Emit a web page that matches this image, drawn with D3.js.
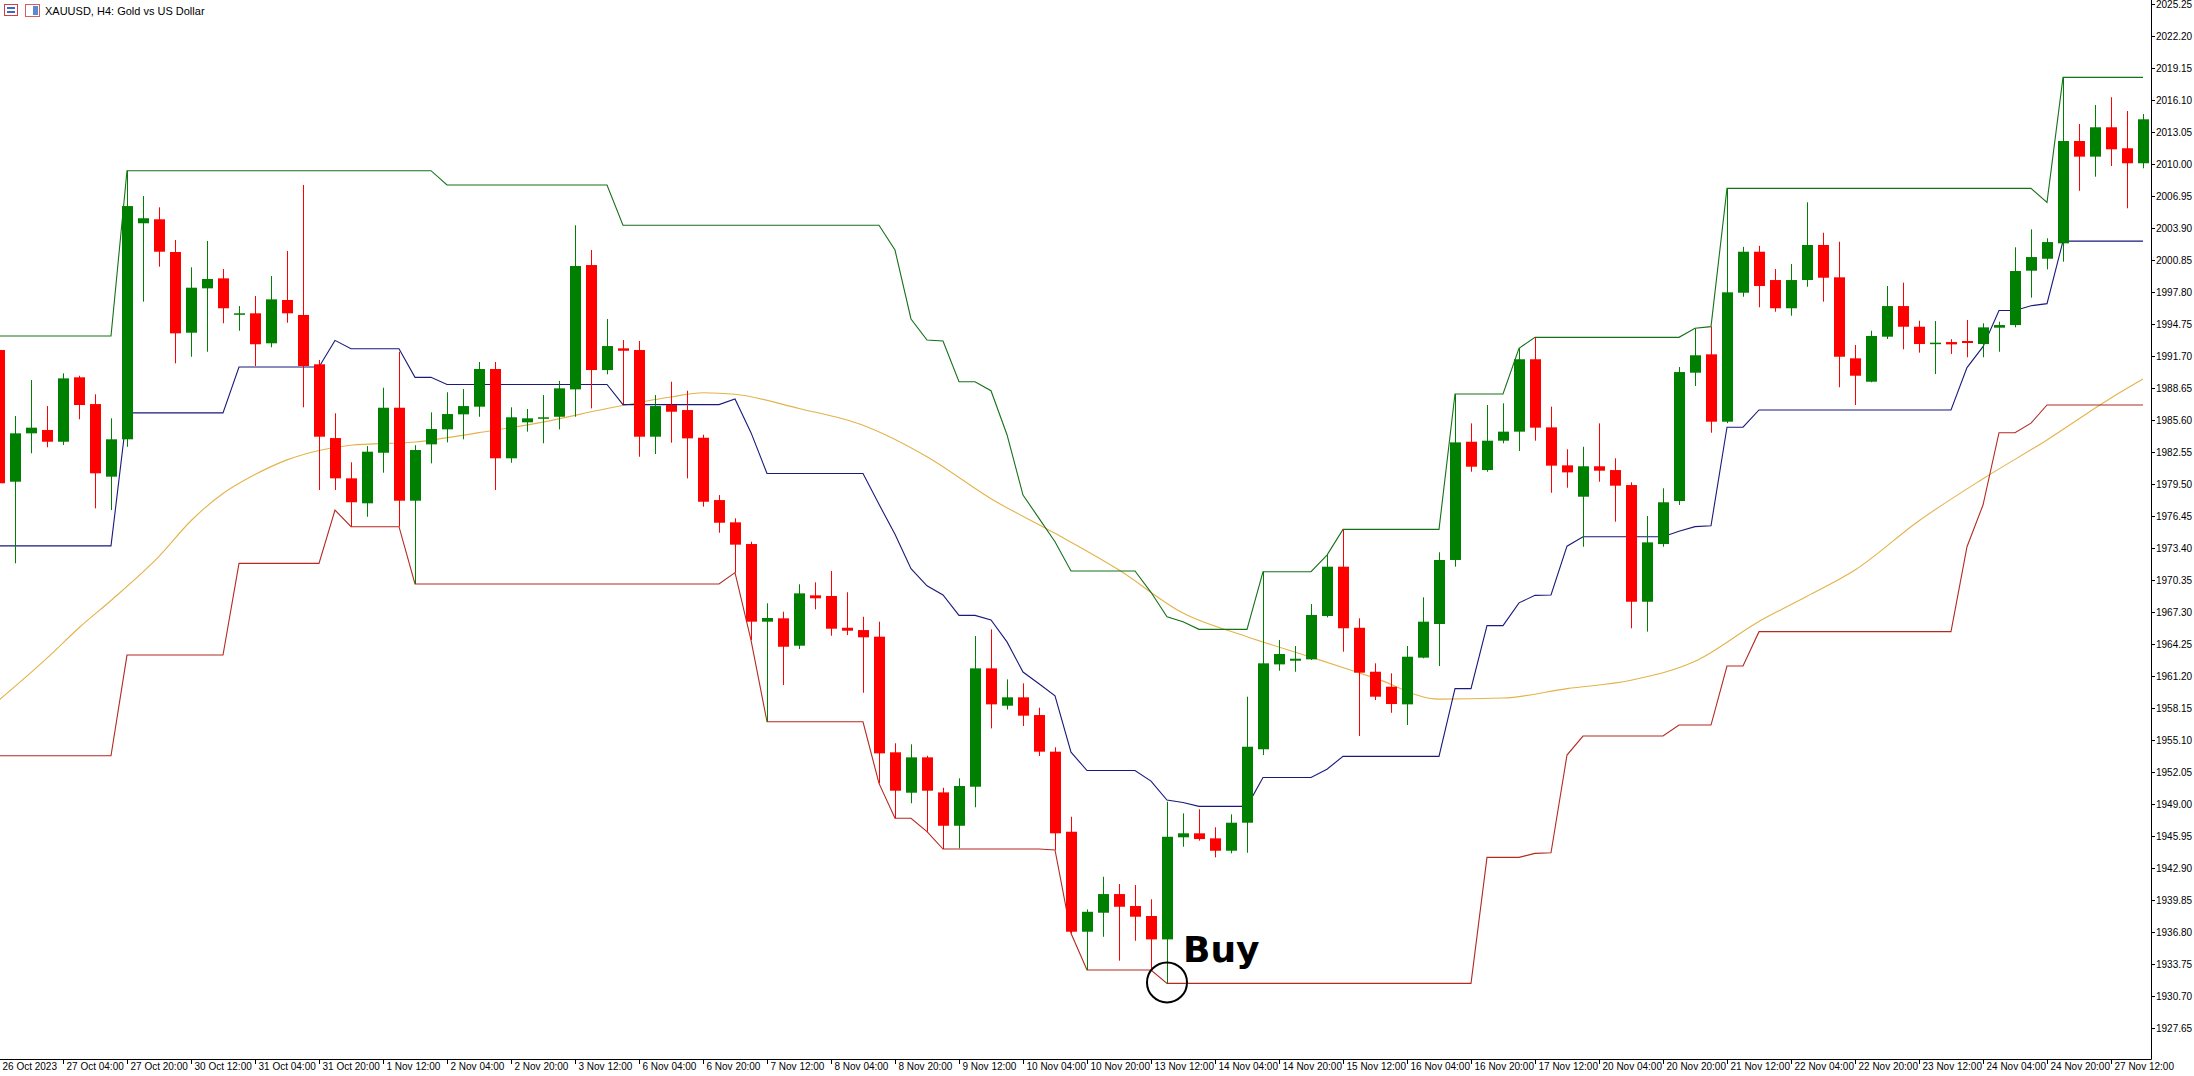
<!DOCTYPE html>
<html>
<head>
<meta charset="utf-8">
<script src="https://cdn.jsdelivr.net/npm/d3@7"></script>
<style>
  body { margin: 0; background: #fff; }
  svg { display: block; }
  .axis text { font-family: "Liberation Sans", Arial, sans-serif; font-size: 10px; fill: #000; }
</style>
</head>
<body>
<svg id="chart" width="2194" height="1076"></svg>
<script>
var opens = [1992.27,1979.72,1984.33,1984.65,1983.53,1989.67,1987.12,1980.2,1983.76,2004.35,2004.73,2001.61,1993.92,1998.15,1999.1,1995.64,1995.77,1992.91,1997.04,1995.61,
  1990.91,1983.88,1980.04,1977.66,1982.48,1986.77,1977.91,1983.28,1984.71,1986.14,1986.87,1990.46,1981.95,1985.38,1985.73,1985.91,1988.52,2000.37,1990.36,1992.43,
  1992.27,1984.01,1987.03,1986.55,1983.91,1977.97,1975.85,1973.78,1966.38,1966.7,1964.09,1968.89,1968.83,1965.8,1965.58,1964.95,1953.93,1950.08,1953.45,1950.11,
  1946.93,1950.65,1961.93,1958.37,1959.17,1957.48,1953.99,1946.36,1936.83,1938.64,1940.42,1939.28,1938.33,1936.10,1945.83,1946.21,1945.73,1944.55,1947.22,1954.22,
  1962.31,1962.66,1962.79,1966.92,1971.62,1965.80,1961.61,1960.18,1958.50,1962.95,1966.16,1972.26,1983.53,1980.83,1983.63,1984.49,1991.39,1984.9,1981.28,1978.29,
  1981.19,1980.83,1979.4,1968.28,1973.78,1977.88,1990.11,1991.86,1985.44,1997.73,2001.64,1998.94,1996.25,1998.94,2002.28,1999.2,1991.48,1989.25,1993.54,1996.46,
  1994.49,1992.84,1993.03,1993.13,1992.84,1994.40,1994.65,1999.83,2000.97,2002.44,2012.19,2010.70,2013.50,2011.50,2010.07];
var highs = [1993.4,1985.98,1989.41,1986.93,1990.05,1989.82,1988.05,1985.76,2009.36,2006.95,2005.87,2002.76,2000.15,2002.66,1999.99,1996.46,1997.42,1999.32,2001.71,2008.0,
  1991.32,1986.24,1981.57,1983.12,1988.68,1992.11,1983.2,1986.33,1988.24,1988.55,1991.13,1991.13,1986.81,1986.65,1987.98,1989.32,2004.16,2001.80,1995.23,1993.22,
  1993.13,1987.98,1989.25,1988.39,1984.2,1978.45,1976.23,1974.0,1968.13,1967.33,1969.94,1970.13,1971.21,1969.18,1966.85,1966.38,1954.79,1954.69,1953.6,1950.55,
  1951.45,1965.01,1965.65,1960.88,1960.5,1958.18,1954.41,1947.79,1938.96,1942.07,1941.38,1941.28,1939.92,1949.22,1948.11,1948.5,1946.78,1948.02,1959.23,1971.14,
  1964.63,1964.06,1968.06,1972.73,1975.18,1966.70,1962.41,1961.46,1964.06,1968.70,1972.99,1988.08,1985.28,1987.03,1987.19,1992.43,1993.48,1986.87,1982.81,1983.05,
  1985.28,1981.95,1979.66,1976.45,1979.09,1990.65,1994.34,1994.50,2007.68,2002.1,2002.2,1999.99,2000.47,2006.35,2003.45,2002.59,1992.75,1994.1,1998.37,1998.69,
  1995.06,1995.03,1993.3,1995.13,1994.82,1994.97,2002.06,2003.77,2002.92,2018.26,2013.81,2015.62,2016.36,2015.05,2014.76];
var lows = [1978.5,1971.94,1982.43,1983.0,1983.22,1985.67,1977.18,1977.02,1983.05,1996.88,2000.21,1991.0,1991.63,1992.11,1994.82,1994.11,1990.75,1992.53,1994.87,1986.81,
  1978.93,1978.93,1975.43,1976.38,1980.58,1975.43,1969.97,1981.47,1983.47,1983.76,1985.91,1978.93,1981.53,1984.49,1983.38,1984.71,1985.91,1986.71,1989.95,1987.12,
  1982.1,1982.36,1983.44,1980.04,1977.34,1974.86,1971.05,1964.63,1956.84,1960.34,1963.77,1967.56,1965.04,1965.1,1959.61,1950.97,1947.64,1949.07,1946.37,1944.71,
  1944.78,1948.69,1956.21,1958.0,1956.44,1953.58,1944.62,1936.68,1933.18,1936.35,1934.07,1935.97,1933.18,1931.91,1944.93,1945.51,1943.92,1944.30,1944.36,1953.67,
  1961.71,1961.61,1962.73,1966.79,1963.52,1955.48,1958.91,1957.70,1956.53,1962.89,1962.15,1971.62,1980.67,1980.67,1983.38,1982.65,1983.63,1978.67,1979.15,1973.52,
  1979.72,1975.91,1965.75,1965.43,1973.52,1977.5,1988.84,1984.39,1985.3,1997.35,1996.34,1995.92,1995.54,1998.30,1996.88,1988.72,1987.03,1989.2,1993.32,1992.34,
  1992.02,1989.98,1991.9,1991.58,1991.58,1992.11,1994.43,1997.26,1999.96,2000.69,2007.45,2008.79,2009.81,2005.78,2009.59];
var closes = [1979.57,1984.33,1984.87,1983.53,1989.57,1987.03,1980.52,1983.76,2005.99,2004.83,2001.64,1993.86,1998.21,1999.04,1996.25,1995.77,1992.82,1997.10,1995.77,1990.75,
  1984.01,1980.04,1977.76,1982.58,1986.77,1977.91,1982.74,1984.74,1986.17,1986.93,1990.46,1981.95,1985.86,1985.76,1985.86,1988.62,2000.28,1990.36,1992.65,1992.2,
  1984.01,1986.93,1986.39,1983.85,1977.81,1975.81,1973.72,1966.38,1966.73,1963.99,1969.08,1968.61,1965.71,1965.52,1964.89,1953.83,1950.27,1953.45,1950.27,1946.93,
  1950.72,1961.93,1958.50,1959.17,1957.42,1953.99,1946.21,1936.83,1938.73,1940.42,1939.21,1938.26,1936.10,1945.88,1946.21,1945.66,1944.55,1947.22,1954.46,1962.41,
  1963.30,1962.85,1967.02,1971.62,1965.75,1961.52,1959.23,1958.53,1963.04,1966.38,1972.26,1983.47,1981.15,1983.63,1984.49,1991.39,1984.87,1981.25,1980.61,1981.19,
  1980.77,1979.34,1968.28,1973.94,1977.76,1990.17,1991.77,1985.44,1997.77,2001.64,1998.37,1996.25,1998.94,2002.28,1999.16,1991.63,1989.82,1993.61,1996.46,1994.49,
  1992.84,1992.97,1992.81,1992.94,1994.43,1994.65,1999.80,2001.13,2002.56,2012.19,2010.70,2013.50,2011.40,2010.07,2014.26];

// channel values before the visible bars reach back off-screen
var earlyUpper = [1993.6,1993.6,1993.6,1993.6,1993.6,1993.6,1993.6,1993.6];
var earlyLower = [1953.6,1953.6,1953.6,1953.6,1953.6,1953.6,1953.6,1953.6,1963.2,1963.2,1963.2,1963.2,1963.2,1963.2,1963.2];
var channelPeriod = 20;

var maBars = [0,3,5,7,10,12,14,16,18,20,22,26,30,34,38,42,44,46,50,54,58,62,66,70,74,78,82,86,90,94,98,102,106,110,113,116,120,124,128,132,134];
var maValues = [1958.9,1962.9,1965.8,1968.4,1972.6,1976.0,1978.6,1980.4,1981.8,1982.7,1983.2,1983.5,1984.4,1985.4,1986.7,1987.8,1988.2,1988.05,1986.7,1985.1,1982.1,1978.1,1974.8,1971.3,1967.2,1964.95,1963.0,1961.0,1959.0,1959.1,1960.0,1960.8,1962.6,1966.4,1968.8,1971.3,1976.0,1980.0,1983.7,1987.7,1989.5];

var timeLabels = ['26 Oct 2023','27 Oct 04:00','27 Oct 20:00','30 Oct 12:00','31 Oct 04:00','31 Oct 20:00','1 Nov 12:00','2 Nov 04:00','2 Nov 20:00','3 Nov 12:00',
  '6 Nov 04:00','6 Nov 20:00','7 Nov 12:00','8 Nov 04:00','8 Nov 20:00','9 Nov 12:00','10 Nov 04:00','10 Nov 20:00','13 Nov 12:00','14 Nov 04:00',
  '14 Nov 20:00','15 Nov 12:00','16 Nov 04:00','16 Nov 20:00','17 Nov 12:00','20 Nov 04:00','20 Nov 20:00','21 Nov 12:00','22 Nov 04:00','22 Nov 20:00',
  '23 Nov 12:00','24 Nov 04:00','24 Nov 20:00','27 Nov 12:00'];
var priceTicks = d3.range(1927.65, 2025.3, 3.05);

var buyBar = 73, buyPrice = 1932.0;

var svg = d3.select('#chart');
var plotRight = 2151, plotBottom = 1059;

var x = d3.scaleLinear().domain([0, 134]).range([-1, 2143]);
var y = d3.scaleLinear().domain([1924.70, 2025.63]).range([plotBottom, 0]);

var bars = d3.range(opens.length).map(function(i) {
  return {i: i, o: opens[i], h: highs[i], l: lows[i], c: closes[i]};
});

var upper = bars.map(function(b) {
  var w = highs.slice(Math.max(0, b.i - channelPeriod + 1), b.i + 1);
  if (b.i < earlyUpper.length) w.push(earlyUpper[b.i]);
  return d3.max(w);
});
var lower = bars.map(function(b) {
  var w = lows.slice(Math.max(0, b.i - channelPeriod + 1), b.i + 1);
  if (b.i < earlyLower.length) w.push(earlyLower[b.i]);
  return d3.min(w);
});
var middle = upper.map(function(u, i) { return (u + lower[i]) / 2; });

var plot = svg.append('g');
plot.append('clipPath').attr('id', 'clip').append('rect')
  .attr('width', plotRight).attr('height', plotBottom);
var g = plot.append('g').attr('clip-path', 'url(#clip)');

function seriesLine(values, color) {
  g.append('path')
    .datum(values)
    .attr('fill', 'none')
    .attr('stroke', color)
    .attr('stroke-width', 1.1)
    .attr('d', d3.line().x(function(d, i) { return x(i); }).y(function(d) { return y(d); }));
}

g.append('path')
  .datum(maBars)
  .attr('fill', 'none')
  .attr('stroke', '#e3b34a')
  .attr('stroke-width', 1.1)
  .attr('d', d3.line().curve(d3.curveMonotoneX)
    .x(function(d) { return x(d); })
    .y(function(d, k) { return y(maValues[k]); }));

seriesLine(upper, '#17701a');
seriesLine(lower, '#b22a22');
seriesLine(middle, '#1a1a7a');

var candles = g.selectAll('.candle').data(bars).enter().append('g').attr('class', 'candle');
function colorOf(d) { return d.c >= d.o ? '#008000' : '#ff0000'; }
candles.append('line')
  .attr('x1', function(d) { return x(d.i) + 0.5; })
  .attr('x2', function(d) { return x(d.i) + 0.5; })
  .attr('y1', function(d) { return y(d.h); })
  .attr('y2', function(d) { return y(d.l); })
  .attr('stroke', colorOf);
candles.append('rect')
  .attr('x', function(d) { return x(d.i) - 5; })
  .attr('width', 11)
  .attr('y', function(d) { return y(Math.max(d.o, d.c)); })
  .attr('height', function(d) { return Math.max(1.5, Math.abs(y(d.o) - y(d.c))); })
  .attr('fill', colorOf);

// axes
var yAxis = d3.axisRight(y).tickValues(priceTicks).tickSize(4).tickFormat(d3.format('.2f'));
svg.append('g').attr('class', 'axis').attr('transform', 'translate(' + plotRight + ',0)').call(yAxis)
  .call(function(s) { s.select('.domain').remove(); s.selectAll('line').attr('stroke', '#000'); s.selectAll('text').attr('x', 5); });

var xAxis = d3.axisBottom(x).tickValues(timeLabels.map(function(t, k) { return k * 4; }))
  .tickSize(5).tickFormat(function(d) { return timeLabels[d / 4]; });
svg.append('g').attr('class', 'axis').attr('transform', 'translate(0,' + plotBottom + ')').call(xAxis)
  .call(function(s) {
    s.select('.domain').remove();
    s.selectAll('line').attr('stroke', '#000');
    s.selectAll('text').attr('text-anchor', 'start').attr('dx', 3).attr('y', 4);
  });

svg.append('line').attr('x1', plotRight + 0.5).attr('x2', plotRight + 0.5).attr('y1', 0).attr('y2', plotBottom + 0.5).attr('stroke', '#000');
svg.append('line').attr('x1', 0).attr('x2', plotRight + 0.5).attr('y1', plotBottom + 0.5).attr('y2', plotBottom + 0.5).attr('stroke', '#000');

// title with the two small icons
var head = svg.append('g');
head.append('rect').attr('x', 4.5).attr('y', 4.5).attr('width', 13).attr('height', 11).attr('fill', '#fff').attr('stroke', '#d04040');
head.append('rect').attr('x', 7).attr('y', 7).attr('width', 8).attr('height', 2).attr('fill', '#3a6bc0');
head.append('rect').attr('x', 7).attr('y', 11).attr('width', 8).attr('height', 2).attr('fill', '#3a6bc0');
head.append('rect').attr('x', 25.5).attr('y', 4.5).attr('width', 14).attr('height', 12).attr('fill', '#fff').attr('stroke', '#d06060');
head.append('rect').attr('x', 33).attr('y', 6).attr('width', 5).attr('height', 9).attr('fill', '#5a8ad0');
head.append('text').attr('x', 45).attr('y', 15)
  .attr('font-family', 'Liberation Sans, Arial, sans-serif').attr('font-size', 11).attr('fill', '#000')
  .text('XAUUSD, H4:  Gold vs US Dollar');

// buy marker
svg.append('circle').attr('cx', x(buyBar)).attr('cy', y(buyPrice)).attr('r', 20)
  .attr('fill', 'none').attr('stroke', '#000').attr('stroke-width', 2);
svg.append('text').attr('x', x(buyBar) + 16).attr('y', y(buyPrice) - 20)
  .attr('font-family', 'DejaVu Sans, Verdana, sans-serif').attr('font-weight', 'bold')
  .attr('font-size', 36).attr('fill', '#000').text('Buy');
</script>
</body>
</html>
